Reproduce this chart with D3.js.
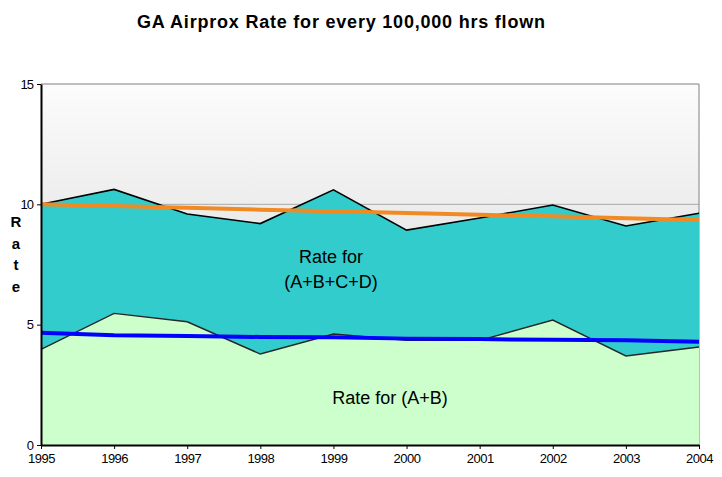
<!DOCTYPE html>
<html>
<head>
<meta charset="utf-8">
<script src="https://cdn.jsdelivr.net/npm/d3@7"></script>
<style>
  body { margin: 0; background: #fff; }
  svg text { font-family: "Liberation Sans", Arial, Helvetica, sans-serif; }
</style>
</head>
<body>
<div id="chart"></div>
<script>
const years = [1995, 1996, 1997, 1998, 1999, 2000, 2001, 2002, 2003, 2004];
// rate for all categories A+B+C+D
const rateAll = [10.0, 10.62, 9.6, 9.2, 10.6, 8.93, 9.43, 9.97, 9.1, 9.63];
// rate for A+B only
const rateAB = [3.97, 5.47, 5.12, 3.78, 4.61, 4.35, 4.35, 5.19, 3.7, 4.07];
// trend lines as drawn
const trendAll = [10.0, 9.93, 9.86, 9.78, 9.71, 9.64, 9.57, 9.5, 9.42, 9.35];
const trendAB = [4.66, 4.56, 4.53, 4.49, 4.48, 4.42, 4.4, 4.37, 4.35, 4.29];
const yTicks = [0, 5, 10, 15];

const width = 722, height = 477;
const svg = d3.select('#chart').append('svg')
  .attr('width', width)
  .attr('height', height);

const x = d3.scaleLinear().domain([1995, 2004]).range([41, 699]);
const y = d3.scaleLinear().domain([0, 15]).range([445, 84]);

const defs = svg.append('defs');
const grad = defs.append('linearGradient')
  .attr('id', 'bg').attr('x1', 0).attr('y1', 0).attr('x2', 0).attr('y2', 1);
grad.append('stop').attr('offset', '0%').attr('stop-color', '#fcfcfc');
grad.append('stop').attr('offset', '100%').attr('stop-color', '#cfcfcf');

// plot background
svg.append('rect')
  .attr('x', x(1995)).attr('y', y(15))
  .attr('width', x(2004) - x(1995)).attr('height', y(0) - y(15))
  .attr('fill', 'url(#bg)');

// gridline at 10
svg.append('line')
  .attr('x1', x(1995)).attr('x2', x(2004))
  .attr('y1', y(10)).attr('y2', y(10))
  .attr('stroke', '#aaaaaa').attr('stroke-width', 1);

// top and right border
svg.append('path')
  .attr('d', `M${x(1995)},${y(15)}H${x(2004)}V${y(0)}`)
  .attr('fill', 'none').attr('stroke', '#808080').attr('stroke-width', 1);

const area = d3.area()
  .x((d, i) => x(years[i]))
  .y0(y(0))
  .y1(d => y(d));
const line = d3.line().x((d, i) => x(years[i])).y(d => y(d));

svg.append('path')
  .datum(rateAll)
  .attr('d', area)
  .attr('fill', '#33cccc');

svg.append('path')
  .datum(rateAll)
  .attr('d', line)
  .attr('fill', 'none').attr('stroke', '#000').attr('stroke-width', 1.6);

svg.append('path')
  .datum(rateAB)
  .attr('d', area)
  .attr('fill', '#ccffcc');

svg.append('path')
  .datum(rateAB)
  .attr('d', line)
  .attr('fill', 'none').attr('stroke', '#262626').attr('stroke-width', 1.4);

// trend lines
svg.append('path')
  .datum(trendAll)
  .attr('d', line)
  .attr('fill', 'none').attr('stroke', '#f28a24').attr('stroke-width', 4);

svg.append('path')
  .datum(trendAB)
  .attr('d', line)
  .attr('fill', 'none').attr('stroke', '#0000ff').attr('stroke-width', 4);

// axes
const xAxis = svg.append('g')
  .attr('transform', `translate(0,${y(0)})`)
  .call(d3.axisBottom(x).tickValues(years).tickFormat(d3.format('d')).tickSize(4).tickSizeOuter(0));
xAxis.select('.domain').attr('stroke', '#000').attr('stroke-width', 2);
xAxis.selectAll('.tick line').attr('stroke', '#000');
xAxis.selectAll('.tick text')
  .attr('y', 18)
  .attr('dy', 0)
  .attr('font-size', 13)
  .attr('letter-spacing', -0.5)
  .attr('fill', '#000');

const yAxis = svg.append('g')
  .attr('transform', `translate(${x(1995)},0)`)
  .call(d3.axisLeft(y).tickValues(yTicks).tickSize(4).tickSizeOuter(0));
yAxis.select('.domain').attr('stroke', '#000').attr('stroke-width', 2);
yAxis.selectAll('.tick line').attr('stroke', '#000');
yAxis.selectAll('.tick text')
  .attr('x', -8)
  .attr('font-size', 13)
  .attr('letter-spacing', -1)
  .attr('fill', '#000');

// title
svg.append('text')
  .attr('x', 341).attr('y', 28)
  .attr('text-anchor', 'middle')
  .attr('font-size', 18)
  .attr('font-weight', 'bold')
  .attr('textLength', 408)
  .attr('lengthAdjust', 'spacing')
  .text('GA Airprox Rate for every 100,000 hrs flown');

// y label, letters stacked
['R', 'a', 't', 'e'].forEach(function(ch, i) {
  svg.append('text')
    .attr('x', 16).attr('y', 227 + i * 21.7)
    .attr('text-anchor', 'middle')
    .attr('font-size', 15)
    .attr('font-weight', 'bold')
    .text(ch);
});

// area labels
svg.append('text')
  .attr('x', 331).attr('y', 263)
  .attr('text-anchor', 'middle')
  .attr('font-size', 18)
  .text('Rate for');
svg.append('text')
  .attr('x', 331).attr('y', 288)
  .attr('text-anchor', 'middle')
  .attr('font-size', 18)
  .text('(A+B+C+D)');
svg.append('text')
  .attr('x', 390).attr('y', 404)
  .attr('text-anchor', 'middle')
  .attr('font-size', 18)
  .text('Rate for (A+B)');
</script>
</body>
</html>
